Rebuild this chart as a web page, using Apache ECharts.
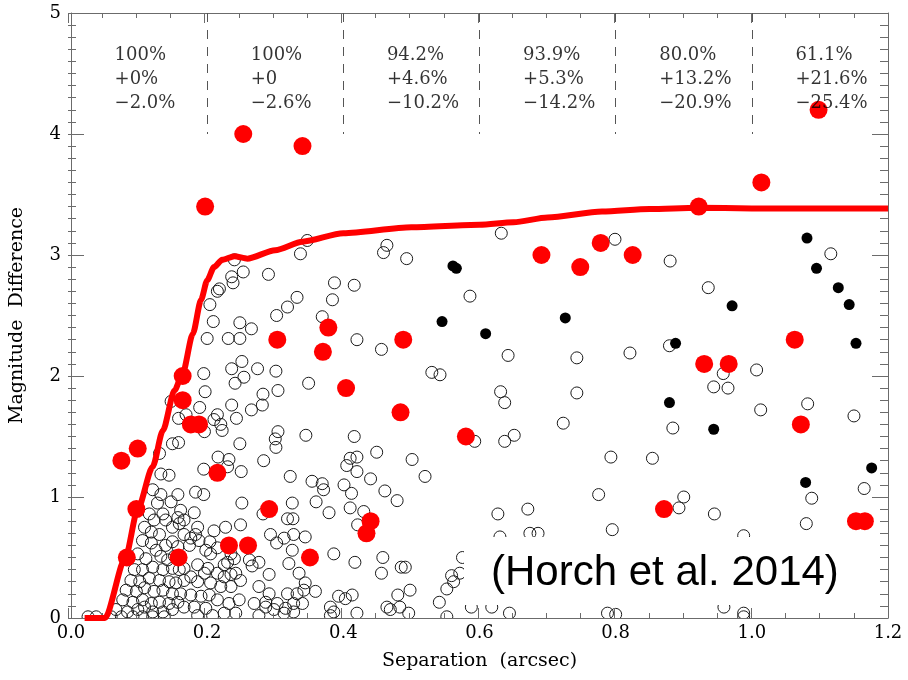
<!DOCTYPE html>
<html>
<head>
<meta charset="utf-8">
<script src="https://cdn.jsdelivr.net/npm/echarts@6/dist/echarts.min.js"></script>
<style>
html,body{margin:0;padding:0;background:#fff;}
#chart{width:908px;height:680px;}
</style>
</head>
<body>
<div id="chart"></div>
<script>
// separation bins (arcsec) and the completeness numbers printed in each
var binStarts = [0.0, 0.2, 0.4, 0.6, 0.8, 1.0];
var dividers = [0.2, 0.4, 0.6, 0.8, 1.0];
var completeness = ['100%', '100%', '94.2%', '93.9%', '80.0%', '61.1%'];
var plusErr = ['+0%', '+0', '+4.6%', '+5.3%', '+13.2%', '+21.6%'];
var minusErr = ['\u22122.0%', '\u22122.6%', '\u221210.2%', '\u221214.2%', '\u221220.9%', '\u221225.4%'];

var xTickLabels = ['0.0', '0.2', '0.4', '0.6', '0.8', '1.0', '1.2'];
var yTickLabels = ['0', '1', '2', '3', '4', '5'];

// detection limit curve
var curveX = [0.02, 0.05, 0.08, 0.098, 0.12, 0.135, 0.152, 0.164, 0.179, 0.191, 0.2, 0.21, 0.222, 0.24, 0.259, 0.3, 0.34, 0.4, 0.5, 0.6, 0.65, 0.7, 0.78, 0.85, 0.92, 1.0, 1.2];
var curveY = [0, 0, 0.5, 0.9, 1.25, 1.55, 1.88, 2.02, 2.35, 2.63, 2.79, 2.9, 2.96, 2.99, 2.97, 3.04, 3.11, 3.18, 3.23, 3.25, 3.27, 3.31, 3.36, 3.38, 3.39, 3.385, 3.385];

// red filled points
var redPoints = [
	[0.074,1.30],[0.098,1.40],[0.096,0.90],[0.082,0.50],[0.158,0.50],[0.215,1.20],[0.232,0.60],[0.26,0.60],
	[0.291,0.90],[0.164,2.0],[0.164,1.80],[0.176,1.60],[0.188,1.60],[0.303,2.30],[0.197,3.40],[0.253,4.00],
	[0.34,3.90],[0.351,0.50],[0.691,3.0],[0.748,2.90],[0.778,3.10],[0.378,2.40],[0.37,2.20],[0.488,2.30],
	[0.404,1.90],[0.484,1.70],[0.58,1.50],[0.44,0.80],[0.434,0.70],[0.825,3.0],[0.93,2.10],[0.966,2.10],
	[1.063,2.30],[1.072,1.60],[0.871,0.90],[1.153,0.80],[1.166,0.80],[0.922,3.40],[1.014,3.60],[1.098,4.20]
];

// black filled points
var blackPoints = [
	[0.561,2.91],[0.566,2.89],[0.545,2.45],[0.609,2.35],[0.726,2.48],[1.081,3.14],[1.095,2.89],[1.127,2.73],
	[1.143,2.59],[0.971,2.58],[0.888,2.27],[1.153,2.27],[0.879,1.78],[0.944,1.56],[1.079,1.12],[1.176,1.24]
];

// open circles
var openPoints = [
	[0.240,2.96],[0.253,2.86],[0.236,2.82],[0.238,2.77],[0.218,2.72],[0.215,2.70],[0.290,2.84],[0.337,3.01],
	[0.387,2.77],[0.384,2.63],[0.332,2.65],[0.318,2.57],[0.302,2.50],[0.204,2.59],[0.209,2.45],[0.248,2.44],
	[0.265,2.39],[0.200,2.31],[0.231,2.31],[0.248,2.31],[0.369,2.49],[0.251,2.12],[0.236,2.06],[0.274,2.06],
	[0.195,2.02],[0.254,1.99],[0.241,1.94],[0.301,2.04],[0.349,1.94],[0.197,1.87],[0.304,1.88],[0.282,1.85],
	[0.281,1.76],[0.236,1.76],[0.265,1.72],[0.189,1.74],[0.147,1.79],[0.158,1.65],[0.215,1.68],[0.210,1.64],
	[0.243,1.65],[0.220,1.60],[0.222,1.55],[0.196,1.54],[0.169,1.68],[0.304,1.54],[0.300,1.48],[0.345,1.51],
	[0.248,1.44],[0.149,1.44],[0.158,1.45],[0.301,1.41],
	[0.216,1.33],[0.232,1.31],[0.283,1.30],[0.130,1.36],
	[0.230,1.25],[0.195,1.23],[0.250,1.21],[0.322,1.17],[0.183,1.04],[0.195,1.02],[0.157,1.02],[0.251,0.95],
	[0.282,0.86],[0.325,0.95],[0.318,0.82],[0.326,0.82],[0.161,0.89],[0.181,0.87],[0.157,0.83],[0.186,0.75],
	[0.227,0.75],[0.249,0.77],[0.210,0.72],[0.293,0.69],[0.327,0.69],[0.166,0.69],[0.176,0.66],[0.188,0.64],
	[0.183,0.69],[0.204,0.63],[0.215,0.58],[0.198,0.56],[0.205,0.53],[0.302,0.62],[0.313,0.66],[0.174,0.60],
	[0.157,0.59],[0.235,0.53],[0.240,0.49],[0.230,0.46],[0.225,0.44],[0.262,0.48],[0.276,0.46],[0.266,0.43],
	[0.320,0.45],[0.335,0.37],[0.186,0.44],[0.166,0.41],[0.201,0.41],[0.196,0.37],[0.215,0.37],[0.225,0.34],
	[0.235,0.36],[0.242,0.37],[0.176,0.34],[0.166,0.31],[0.186,0.30],[0.205,0.29],[0.220,0.26],[0.235,0.26],
	[0.249,0.31],[0.276,0.26],[0.291,0.20],[0.318,0.20],[0.332,0.20],[0.342,0.23],[0.327,0.12],[0.340,0.12],
	[0.161,0.20],[0.176,0.19],[0.191,0.18],[0.203,0.19],[0.215,0.15],[0.232,0.12],[0.247,0.15],[0.269,0.12],
	[0.286,0.09],[0.298,0.07],[0.166,0.09],[0.181,0.09],[0.198,0.08],[0.225,0.04],[0.242,0.04],[0.208,0.02],
	[0.186,0.02],[0.276,0.02],[0.313,0.04],[0.327,0.05],
	[0.132,1.19],[0.144,1.18],[0.120,1.06],[0.132,1.02],[0.127,0.95],[0.147,0.96],[0.115,0.86],[0.122,0.81],
	[0.135,0.86],[0.139,0.81],[0.149,0.75],[0.159,0.78],[0.108,0.75],[0.118,0.71],[0.130,0.69],[0.105,0.64],
	[0.118,0.62],[0.125,0.56],[0.139,0.60],[0.149,0.63],[0.098,0.53],[0.110,0.49],[0.132,0.51],[0.142,0.48],
	[0.152,0.51],[0.093,0.40],[0.105,0.40],[0.120,0.42],[0.135,0.40],[0.149,0.41],[0.159,0.40],[0.088,0.31],
	[0.101,0.30],[0.115,0.33],[0.130,0.31],[0.144,0.30],[0.154,0.29],[0.081,0.23],[0.096,0.22],[0.108,0.25],
	[0.122,0.22],[0.135,0.23],[0.149,0.20],[0.076,0.15],[0.091,0.13],[0.105,0.15],[0.118,0.12],[0.130,0.13],
	[0.144,0.12],[0.157,0.13],[0.066,0.07],[0.083,0.05],[0.098,0.07],[0.108,0.09],[0.120,0.05],[0.135,0.05],
	[0.149,0.07],[0.025,0.01],[0.037,0.01],[0.059,0.01],[0.074,0.01],[0.091,0.01],[0.105,0.01],[0.120,0.01],
	[0.137,0.01],
	[0.166,0.81],[0.291,0.36],[0.286,0.13],[0.303,0.12],[0.315,0.08],[0.325,0.56],
	[0.410,1.32],[0.420,1.33],[0.405,1.26],[0.449,1.37],[0.501,1.31],[0.520,1.17],[0.440,1.15],[0.420,1.21],
	[0.354,1.13],[0.369,1.11],[0.371,1.06],[0.401,1.10],[0.412,1.03],[0.461,1.05],[0.479,0.97],[0.360,0.96],
	[0.379,0.87],[0.410,0.91],[0.430,0.88],[0.421,0.77],[0.344,0.67],[0.386,0.53],[0.417,0.46],[0.458,0.50],
	[0.456,0.37],[0.485,0.42],[0.491,0.42],[0.498,0.23],[0.480,0.19],[0.541,0.13],[0.552,0.24],[0.562,0.30],
	[0.559,0.35],[0.571,0.37],[0.575,0.50],[0.344,0.29],[0.359,0.22],[0.393,0.18],[0.403,0.16],[0.413,0.19],
	[0.381,0.09],[0.386,0.05],[0.381,0.02],[0.420,0.04],[0.464,0.09],[0.469,0.07],[0.483,0.09],[0.496,0.04],
	[0.552,0.01],[0.627,0.86],[0.671,0.90],[0.674,0.70],[0.686,0.70],[0.630,0.67],[0.775,1.02],[0.588,0.09],
	[0.618,0.09],[0.644,0.04],
	[0.793,1.33],[0.854,1.32],[0.795,0.73],[0.900,1.00],[0.893,0.91],[0.945,0.86],[0.988,0.68],[1.080,0.78],
	[1.088,0.99],[1.165,1.07],[0.959,0.09],[0.988,0.04],[0.988,0.01],[0.788,0.04],[0.800,0.03],
	[0.347,3.12],[0.464,3.08],[0.459,3.02],[0.493,2.97],[0.632,3.18],[0.416,2.75],[0.586,2.66],[0.420,2.30],
	[0.456,2.22],[0.642,2.17],[0.743,2.15],[0.530,2.03],[0.542,2.01],[0.631,1.87],[0.637,1.78],[0.743,1.86],
	[0.723,1.61],[0.416,1.50],[0.593,1.46],[0.637,1.46],[0.651,1.51],
	[0.799,3.13],[0.880,2.95],[0.936,2.73],[1.116,3.01],[0.879,2.25],[0.821,2.19],[0.958,2.02],[1.007,2.05],
	[0.944,1.91],[0.965,1.90],[1.013,1.72],[1.082,1.77],[1.150,1.67],[0.884,1.57]
];

var serif = '"DejaVu Serif", "Liberation Serif", serif';
var frameColor = '#6b6b6b';

var curveData = curveX.map(function(x, i){ return [x, curveY[i]]; });
var annotData = binStarts.map(function(x){ return [x + 0.064, 4.45]; });

// main frame side: gray line only
function frameAxis(isX, extra) {
	var o = {
		type : 'value',
		gridIndex : 0,
		min : 0,
		max : isX ? 1.2 : 5,
		interval : isX ? 0.2 : 1,
		z : 4,
		splitLine : { show : false },
		axisLine : { show : true, onZero : false, lineStyle : { color : frameColor, width : 1 } },
		axisTick : { show : false },
		axisLabel : { show : false }
	};
	for (var k in extra) o[k] = extra[k];
	return o;
}

// thin strip along a frame side; its split lines act as the inward ticks
function tickStrip(isX, gridIndex, minor) {
	return {
		type : 'value',
		gridIndex : gridIndex,
		min : 0,
		max : isX ? 1.2 : 5,
		interval : isX ? 0.2 : 1,
		z : 4,
		axisLine : { show : false },
		axisTick : { show : false },
		axisLabel : { show : false },
		minorTick : { show : false, splitNumber : isX ? 4 : 10 },
		splitLine : { show : !minor, lineStyle : { color : frameColor, width : 1 } },
		minorSplitLine : { show : minor, lineStyle : { color : frameColor, width : 1 } }
	};
}
function hiddenAxis(gridIndex) {
	return { type : 'value', gridIndex : gridIndex, show : false, min : 0, max : 1 };
}

var chart = echarts.init(document.getElementById('chart'));
var option = {
	animation : false,
	grid : [
		{ left : 68, right : 20, top : 13, bottom : 62 },
		{ left : 68, width : 820, top : 608, height : 10 },   // bottom major ticks
		{ left : 68, width : 820, top : 613, height : 5 },    // bottom minor ticks
		{ left : 68, width : 820, top : 13, height : 10 },    // top major ticks
		{ left : 68, width : 820, top : 13, height : 5 },     // top minor ticks
		{ left : 68, width : 16, top : 13, height : 605 },    // left major ticks
		{ left : 68, width : 8, top : 13, height : 605 },     // left minor ticks
		{ left : 872, width : 16, top : 13, height : 605 },   // right major ticks
		{ left : 880, width : 8, top : 13, height : 605 }     // right minor ticks
	],
	xAxis : [
		frameAxis(true, {
			position : 'bottom',
			name : 'Separation  (arcsec)',
			nameLocation : 'middle',
			nameGap : 34,
			nameTextStyle : { fontFamily : serif, fontSize : 19, color : '#000' },
			axisLabel : {
				show : true, margin : 6, fontFamily : serif, fontSize : 18, color : '#000',
				formatter : function(v){ return xTickLabels[Math.round(v / 0.2)]; }
			}
		}),
		frameAxis(true, { position : 'top' }),
		tickStrip(true, 1, false),
		tickStrip(true, 2, true),
		tickStrip(true, 3, false),
		tickStrip(true, 4, true),
		hiddenAxis(5), hiddenAxis(6), hiddenAxis(7), hiddenAxis(8)
	],
	yAxis : [
		frameAxis(false, {
			position : 'left',
			name : 'Magnitude  Difference',
			nameLocation : 'middle',
			nameGap : 44,
			nameRotate : 90,
			nameTextStyle : { fontFamily : serif, fontSize : 19, color : '#000' },
			axisLabel : {
				show : true, margin : 10, fontFamily : serif, fontSize : 18, color : '#000',
				formatter : function(v){ return yTickLabels[Math.round(v)]; }
			}
		}),
		frameAxis(false, { position : 'right' }),
		hiddenAxis(1), hiddenAxis(2), hiddenAxis(3), hiddenAxis(4),
		tickStrip(false, 5, false),
		tickStrip(false, 6, true),
		tickStrip(false, 7, false),
		tickStrip(false, 8, true)
	],
	graphic : [
		// trims the parts of the symbols that fall below the frame
		{ type : 'rect', z : 3, silent : true, shape : { x : 0, y : 618.5, width : 908, height : 62 }, style : { fill : '#fff' } },
		{ type : 'rect', z : 3, silent : true, shape : { x : 464, y : 537, width : 386, height : 68 }, style : { fill : '#fff' } },
		{ type : 'text', z : 6, silent : true, x : 491, y : 573,
			style : { text : '(Horch et al. 2014)', fontSize : 42, fontFamily : '"Liberation Sans", Arial, sans-serif', fill : '#000', verticalAlign : 'middle', align : 'left' } }
	],
	series : [
		{
			type : 'scatter', xAxisIndex : 0, yAxisIndex : 0, z : 2,
			symbol : 'circle', symbolSize : 12,
			itemStyle : { color : 'rgba(255,255,255,0)', borderColor : '#1a1a1a', borderWidth : 1, opacity : 1 },
			data : openPoints
		},
		{
			type : 'scatter', xAxisIndex : 0, yAxisIndex : 0, z : 2,
			symbol : 'circle', symbolSize : 11,
			itemStyle : { color : '#000', opacity : 1 },
			data : blackPoints
		},
		{
			type : 'scatter', xAxisIndex : 0, yAxisIndex : 0, z : 2,
			symbol : 'circle', symbolSize : 18,
			itemStyle : { color : '#ff0000', opacity : 1 },
			data : redPoints
		},
		{
			type : 'line', xAxisIndex : 0, yAxisIndex : 0, z : 5, clip : false,
			showSymbol : false, smooth : 0.25, smoothMonotone : 'x',
			lineStyle : { color : '#ff0000', width : 6 },
			data : curveData
		},
		{
			type : 'scatter', xAxisIndex : 0, yAxisIndex : 0, z : 6,
			symbolSize : 0,
			label : {
				show : true, position : 'right', distance : 0,
				fontFamily : serif, fontSize : 18, lineHeight : 24, color : '#000',
				formatter : function(p){
					var i = p.dataIndex;
					return completeness[i] + '\n' + plusErr[i] + '\n' + minusErr[i];
				}
			},
			markLine : {
				silent : true, symbol : 'none',
				label : { show : false },
				lineStyle : { color : '#555', width : 1, type : [9, 8] },
				data : dividers.map(function(d){ return [{ coord : [d, 5] }, { coord : [d, 4] }]; })
			},
			data : annotData
		}
	]
};
chart.setOption(option);
</script>
</body>
</html>
